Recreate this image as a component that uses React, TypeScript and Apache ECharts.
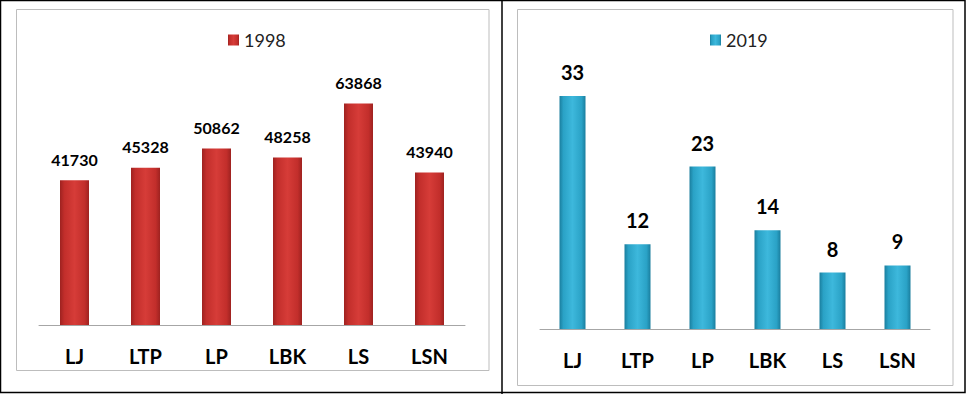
import React, { useEffect, useRef } from "react";
import * as echarts from "echarts";

const categories = ["LJ", "LTP", "LP", "LBK", "LS", "LSN"];
const values1998 = [41730, 45328, 50862, 48258, 63868, 43940];
const values2019 = [33, 12, 23, 14, 8, 9];
const seriesNames = ["1998", "2019"];

const redGrad = new echarts.graphic.LinearGradient(0, 0, 1, 0, [
  { offset: 0, color: "#9E2220" },
  { offset: 0.15, color: "#C22E2B" },
  { offset: 0.5, color: "#D63C38" },
  { offset: 0.85, color: "#C22E2B" },
  { offset: 1, color: "#9E2220" },
]);
const blueGrad = new echarts.graphic.LinearGradient(0, 0, 1, 0, [
  { offset: 0, color: "#1A7E9E" },
  { offset: 0.15, color: "#2AA2C6" },
  { offset: 0.5, color: "#3DB8DC" },
  { offset: 0.85, color: "#2AA2C6" },
  { offset: 1, color: "#1A7E9E" },
]);

export default function App() {
  const ref = useRef<HTMLDivElement>(null);
  useEffect(() => {
    document.body.style.margin = "0";
    const chart = echarts.init(ref.current!, null, { renderer: "svg" });
    const axisCommon = {
      type: "category" as const,
      data: categories,
      axisTick: { show: false },
      axisLine: { lineStyle: { color: "#A6A6A6", width: 1 } },
      axisLabel: {
        fontFamily: "Lato",
        fontWeight: "bold" as const,
        fontSize: 20,
        color: "#000",
        margin: 21,
      },
    };
    const legendCommon = {
      top: 31,
      padding: 0,
      icon: "rect",
      itemWidth: 11,
      itemHeight: 11,
      itemGap: 6,
      textStyle: { fontFamily: "Lato", fontSize: 18, color: "#222" },
    };
    chart.setOption({
      animation: false,
      backgroundColor: "#fff",
      grid: [
        { left: 39, width: 426, top: 82.2, height: 242.8 },
        { left: 540, width: 390, top: 81.9, height: 247.1 },
      ],
      xAxis: [
        { ...axisCommon, gridIndex: 0 },
        { ...axisCommon, gridIndex: 1 },
      ],
      yAxis: [
        { type: "value", gridIndex: 0, min: 0, max: 70000, show: false, splitLine: { show: false } },
        { type: "value", gridIndex: 1, min: 0, max: 35, show: false, splitLine: { show: false } },
      ],
      legend: [
        { ...legendCommon, data: [seriesNames[0]], left: 228 },
        { ...legendCommon, data: [seriesNames[1]], left: 710 },
      ],
      series: [
        {
          name: seriesNames[0],
          type: "bar",
          xAxisIndex: 0,
          yAxisIndex: 0,
          data: values1998,
          barWidth: 29,
          itemStyle: { color: redGrad },
          label: {
            show: true,
            position: "top",
            distance: 13,
            fontFamily: "Lato",
            fontWeight: "bold",
            fontSize: 16,
            color: "#000",
          },
        },
        {
          name: seriesNames[1],
          type: "bar",
          xAxisIndex: 1,
          yAxisIndex: 1,
          data: values2019,
          barWidth: 26,
          itemStyle: { color: blueGrad },
          label: {
            show: true,
            position: "top",
            distance: 14,
            fontFamily: "Lato",
            fontWeight: "bold",
            fontSize: 20,
            color: "#000",
          },
        },
      ],
      graphic: [
        {
          type: "rect",
          shape: { x: 0.5, y: 0.5, width: 964.5, height: 392 },
          style: { fill: "none", stroke: "#000", lineWidth: 1.5 },
          z: 100,
        },
        {
          type: "line",
          shape: { x1: 502, y1: 0, x2: 502, y2: 394 },
          style: { stroke: "#000", lineWidth: 1.5 },
          z: 100,
        },
        {
          type: "rect",
          shape: { x: 16.5, y: 9.5, width: 472.5, height: 361 },
          style: { fill: "none", stroke: "#BDBDBD", lineWidth: 1 },
          z: 100,
        },
        {
          type: "rect",
          shape: { x: 517.5, y: 9.5, width: 435.5, height: 376 },
          style: { fill: "none", stroke: "#BDBDBD", lineWidth: 1 },
          z: 100,
        },
      ],
    });
    return () => chart.dispose();
  }, []);
  return <div ref={ref} style={{ width: 967, height: 394 }} />;
}
